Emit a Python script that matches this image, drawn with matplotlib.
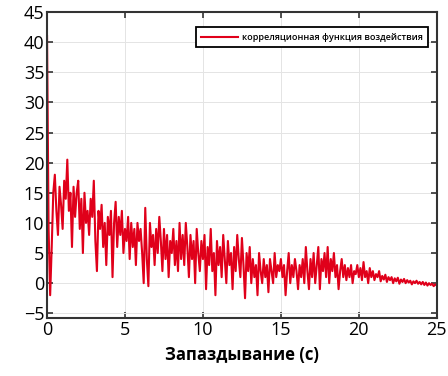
import numpy as np
import matplotlib
matplotlib.use("Agg")
import matplotlib.pyplot as plt

lag_step = 0.1
corr_values = [
    41, 9, -2, 6, 15, 18, 12, 8, 16, 13,
    9, 17, 14, 20.5, 12, 15, 6, 16, 11, 15,
    17, 9, 14, 5, 15, 10, 12, 8, 14, 11,
    17, 7, 2, 12, 9, 13, 6, 10, 3, 11,
    8, 12, 1, 10, 13.5, 6, 11, 8, 12, 5,
    9, 7, 11, 4, 10, 6, 9, 3, 10, 7,
    9, 5, 0, 12.5, 4, -0.5, 10, 6, 8, 3,
    9, 5, 11, 7, 2, 9, 4, 8, 1, 7,
    5, 9, 3, 7, 2, 10, 4, 8, 3, 10,
    6, 1, 8, 4, 7, 0, 9, 5, 2, 7,
    4, 8, -1, 6, 3, 9, 2, 5, -2, 7,
    3, 6, 1, 8, 4, 0, 7, 3, 5, -1,
    6, 2, 8, 4, 1, 7.5, 3, -2.5, 5, 2,
    6, 0, 4, 1, 3, -2, 5, 2, 0, 4,
    1, 3, -1.5, 4, 2, 0, 5, 1, 3, 2,
    4, 1, 3, -2, 2, 5, 0, 3, 1, 4,
    2, -1, 3, 1, 4, 0, 6, 2, -1, 4,
    1, 5, 0, 3, 6, -1, 4, 2, 5, 1,
    6, 0, 4, 2, 5, 1, 3, -1, 2, 4,
    1, 3, 0.5, 2.5, 1, 3, 0, 2, 1.5, 3,
    1, 2.5, 0.5, 3.5, 1, 2, 0, 2.5, 1, 2,
    0.5, 1.5, 1, 2, 0.3, 1.2, 0.6, 1.4, 0.2, 1,
    0.5, 1, 0, 0.8, 0.3, 0.9, -0.1, 0.6, 0.2, 0.7,
    0, 0.5, 0.1, 0.4, -0.2, 0.3, 0, 0.4, -0.1, 0.2,
    -0.2, 0.2, -0.3, 0.1, -0.4, 0, -0.3, -0.1, -0.5, -0.2,
    -0.4,
]
lags = np.arange(len(corr_values)) * lag_step

x_ticks = [0, 5, 10, 15, 20, 25]
y_ticks = [-5, 0, 5, 10, 15, 20, 25, 30, 35, 40, 45]
legend_label = "корреляционная функция воздействия"
x_label = "Запаздывание (с)"

plt.rcParams['font.family'] = ['Open Sans', 'DejaVu Sans']

fig = plt.figure(figsize=(4.48, 3.76), dpi=100)
ax = fig.add_axes([0.105, 0.154, 0.87, 0.814])
ax.plot(lags, corr_values, color='#e0001a', lw=1.5, label=legend_label)
ax.set_xlim(0, 25)
ax.set_ylim(-5.8, 45)
ax.set_xticks(x_ticks)
ax.set_yticks(y_ticks)
ax.grid(True, color='#e4e4e4', lw=0.7)
ax.tick_params(direction='in', top=True, right=True, labelsize=13, length=4,
               width=1.2, color='#333333', pad=2)
for s in ax.spines.values():
    s.set_linewidth(1.5)
    s.set_color('#333333')
ax.set_xlabel(x_label, fontsize=12, fontweight='bold', labelpad=5)
leg = ax.legend(loc='upper right', fontsize=6.5, fancybox=False, framealpha=1,
                edgecolor='black', borderpad=0.6, handlelength=4.0,
                handletextpad=0.5, bbox_to_anchor=(0.99, 0.965))
for t in leg.get_texts():
    t.set_fontweight('semibold')
leg.get_frame().set_linewidth(1.3)
fig.savefig('out.png', dpi=100)
